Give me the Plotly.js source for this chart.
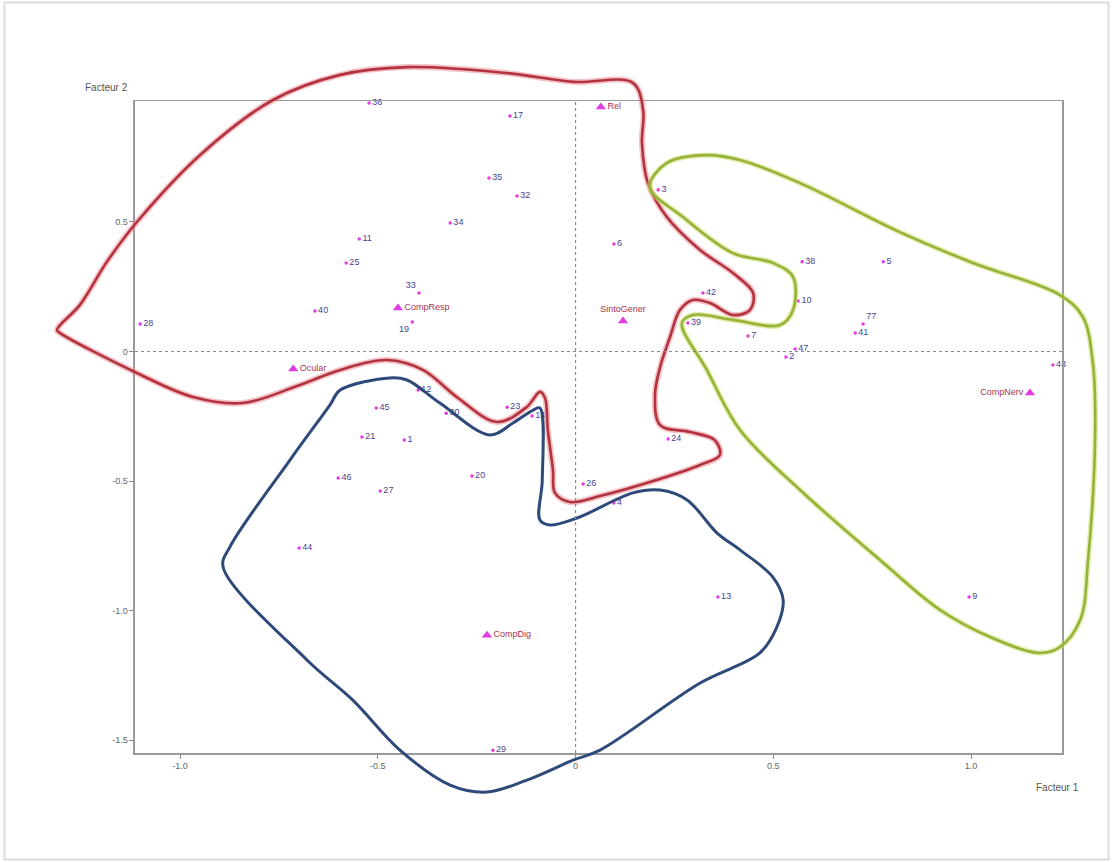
<!DOCTYPE html>
<html>
<head>
<meta charset="utf-8">
<script src="https://cdn.plot.ly/plotly-3.0.1.min.js"></script>
<style>html,body{margin:0;padding:0;background:#fff;}#chart{width:1113px;height:862px;}</style>
</head>
<body>
<div id="chart"></div>
<script>
// Individuals (numbered observations)
const pointLabels = ['36','17','35','32','3','34','11','6','25','38','5','33','40','42','10','28','19','39','77','41','7','47','2','43','12','45','23','30','14','21','1','24','46','20','26','27','4','44','13','9','29'];
const pointX = [-0.522,-0.166,-0.219,-0.148,0.209,-0.317,-0.547,0.097,-0.580,0.573,0.778,-0.396,-0.659,0.322,0.563,-1.101,-0.413,0.284,0.727,0.707,0.436,0.555,0.532,1.207,-0.398,-0.504,-0.173,-0.327,-0.110,-0.540,-0.433,0.234,-0.600,-0.262,0.019,-0.494,0.097,-0.699,0.360,0.995,-0.209];
const pointY = [0.959,0.909,0.670,0.600,0.624,0.496,0.434,0.415,0.342,0.346,0.346,0.226,0.156,0.226,0.195,0.106,0.114,0.110,0.106,0.071,0.060,0.010,-0.021,-0.052,-0.149,-0.218,-0.215,-0.238,-0.249,-0.330,-0.342,-0.338,-0.488,-0.481,-0.512,-0.539,-0.585,-0.759,-0.948,-0.948,-1.539];
const pointTextPos = pointLabels.map(l => l === '33' ? 'top left' : (l === '19' ? 'bottom left' : (l === '77' ? 'top right' : 'middle right')));

// Supplementary categories (triangles)
const catLabels = ['Rel','CompResp','SintoGener','Ocular','CompNerv','CompDig'];
const catX = [0.064,-0.449,0.120,-0.714,1.149,-0.224];
const catY = [0.944,0.168,0.118,-0.068,-0.160,-1.095];
const catTextPos = ['middle right','middle right','top center','middle right','middle left','middle right'];

// Hand-drawn grouping contours (data units)
const redX = [-1.311,-1.253,-1.185,-1.109,-0.949,-0.765,-0.595,-0.426,-0.173,-0.006,0.145,0.171,0.168,0.183,0.231,0.315,0.398,0.449,0.441,0.398,0.340,0.297,0.264,0.239,0.214,0.201,0.214,0.290,0.352,0.365,0.315,0.188,0.062,-0.014,-0.052,-0.057,-0.070,-0.077,-0.090,-0.123,-0.198,-0.300,-0.386,-0.477,-0.595,-0.697,-0.841,-0.967,-1.109,-1.303,-1.311];
const redY = [0.083,0.180,0.346,0.500,0.759,0.971,1.068,1.098,1.075,1.041,1.037,0.932,0.805,0.651,0.519,0.392,0.303,0.226,0.160,0.141,0.187,0.199,0.160,0.056,-0.060,-0.168,-0.284,-0.311,-0.342,-0.400,-0.438,-0.504,-0.558,-0.581,-0.546,-0.458,-0.303,-0.180,-0.156,-0.214,-0.272,-0.176,-0.071,-0.033,-0.071,-0.129,-0.199,-0.176,-0.083,0.071,0.083];
const greenX = [0.188,0.231,0.332,0.416,0.568,0.820,1.005,1.225,1.283,1.308,1.314,1.296,1.276,1.225,1.174,1.048,0.922,0.770,0.568,0.416,0.332,0.269,0.297,0.398,0.517,0.550,0.550,0.499,0.398,0.272,0.188];
const greenY = [0.635,0.728,0.758,0.739,0.650,0.461,0.342,0.218,0.133,-0.044,-0.303,-0.805,-1.037,-1.141,-1.164,-1.102,-0.998,-0.805,-0.535,-0.303,-0.071,0.110,0.141,0.122,0.102,0.160,0.288,0.342,0.380,0.519,0.635];
const blueX = [-0.595,-0.469,-0.426,-0.343,-0.216,-0.158,-0.107,-0.090,-0.084,-0.090,-0.065,0.004,0.145,0.214,0.282,0.358,0.416,0.499,0.525,0.509,0.466,0.315,0.062,-0.006,-0.123,-0.224,-0.317,-0.444,-0.563,-0.679,-0.891,-0.874,-0.722,-0.621,-0.595];
const blueY = [-0.149,-0.102,-0.110,-0.199,-0.322,-0.276,-0.226,-0.218,-0.496,-0.651,-0.670,-0.643,-0.546,-0.535,-0.573,-0.701,-0.766,-0.871,-0.959,-1.064,-1.164,-1.280,-1.539,-1.578,-1.655,-1.701,-1.674,-1.539,-1.346,-1.191,-0.832,-0.755,-0.419,-0.207,-0.149];

const xTickVals = [-1.0,-0.5,0,0.5,1.0];
const xTickText = ['-1.0','-0.5','0','0.5','1.0'];
const yTickVals = [0.5,0,-0.5,-1.0,-1.5];
const yTickText = ['0.5','0','-0.5','-1.0','-1.5'];

const lblFont = {family:'Liberation Sans, Arial, sans-serif', size:9, color:'#4a3f8f'};
const catFont = {family:'Liberation Sans, Arial, sans-serif', size:9, color:'#a8324e'};

const traces = [
  {type:'scatter', mode:'markers+text', x:pointX, y:pointY, text:pointLabels, textposition:pointTextPos,
   marker:{symbol:'circle', size:3.5, color:'#e23de2'}, textfont:lblFont, cliponaxis:false, xaxis:'x', yaxis:'y', hoverinfo:'text'},
  {type:'scatter', mode:'markers+text', x:catX, y:catY, text:catLabels, textposition:catTextPos,
   marker:{symbol:'triangle-up', size:9, color:'#e23de2'}, textfont:catFont, cliponaxis:false, xaxis:'x', yaxis:'y', hoverinfo:'text'},
  {type:'scatter', mode:'lines', x:redX, y:redY, line:{shape:'spline', smoothing:1, color:'rgba(230,120,130,0.45)', width:6}, xaxis:'x2', yaxis:'y2', hoverinfo:'skip'},
  {type:'scatter', mode:'lines', x:redX, y:redY, line:{shape:'spline', smoothing:1, color:'#b2333d', width:2.6}, xaxis:'x2', yaxis:'y2', hoverinfo:'skip'},
  {type:'scatter', mode:'lines', x:greenX, y:greenY, line:{shape:'spline', smoothing:1, color:'rgba(200,220,90,0.5)', width:5.5}, xaxis:'x2', yaxis:'y2', hoverinfo:'skip'},
  {type:'scatter', mode:'lines', x:greenX, y:greenY, line:{shape:'spline', smoothing:1, color:'#95b23a', width:2.6}, xaxis:'x2', yaxis:'y2', hoverinfo:'skip'},
  {type:'scatter', mode:'lines', x:blueX, y:blueY, line:{shape:'spline', smoothing:1, color:'#2f4a7a', width:3}, xaxis:'x2', yaxis:'y2', hoverinfo:'skip'}
];

const axFont = {family:'Liberation Sans, Arial, sans-serif', size:9, color:'#666'};
const layout = {
  width:1113, height:862,
  margin:{l:0, r:0, t:0, b:0},
  paper_bgcolor:'#ffffff', plot_bgcolor:'rgba(0,0,0,0)',
  showlegend:false,
  xaxis:{domain:[0.12129,0.95418], range:[-1.114,1.230], showgrid:false, zeroline:false,
         showline:true, mirror:true, linecolor:'#9a9a9a', linewidth:1.5,
         ticks:'outside', ticklen:4, tickcolor:'#888', tickvals:xTickVals, ticktext:xTickText, tickfont:axFont, fixedrange:true},
  yaxis:{domain:[0.12645,0.88283], range:[-1.550,0.967], showgrid:false, zeroline:false,
         showline:true, mirror:true, linecolor:'#9a9a9a', linewidth:1.5,
         ticks:'outside', ticklen:4, tickcolor:'#888', tickvals:yTickVals, ticktext:yTickText, tickfont:axFont, fixedrange:true},
  xaxis2:{domain:[0,1], range:[-1.4551,1.3590], visible:false, anchor:'y2', fixedrange:true},
  yaxis2:{domain:[0,1], range:[-1.9710,1.3571], visible:false, anchor:'x2', fixedrange:true},
  shapes:[
    {type:'line', xref:'x', yref:'y domain', x0:0, x1:0, y0:0, y1:1, line:{color:'#8a8a8a', width:1.2, dash:'dot'}},
    {type:'line', xref:'x domain', yref:'y', x0:0, x1:1, y0:0, y1:0, line:{color:'#8a8a8a', width:1.2, dash:'dot'}},
    {type:'rect', xref:'paper', yref:'paper', x0:0.004, x1:0.996, y0:0.003, y1:0.997, line:{color:'#dcdcdc', width:2}}
  ],
  annotations:[
    {text:'Facteur 2', xref:'paper', yref:'paper', x:83/1113, y:1-88/862, xanchor:'left', yanchor:'middle', showarrow:false, font:{family:'Liberation Sans, Arial, sans-serif', size:10, color:'#555'}},
    {text:'Facteur 1', xref:'paper', yref:'paper', x:1081/1113, y:1-787/862, xanchor:'right', yanchor:'middle', showarrow:false, font:{family:'Liberation Sans, Arial, sans-serif', size:10, color:'#555'}}
  ]
};

Plotly.newPlot('chart', traces, layout, {displayModeBar:false, staticPlot:true});
</script>
</body>
</html>
